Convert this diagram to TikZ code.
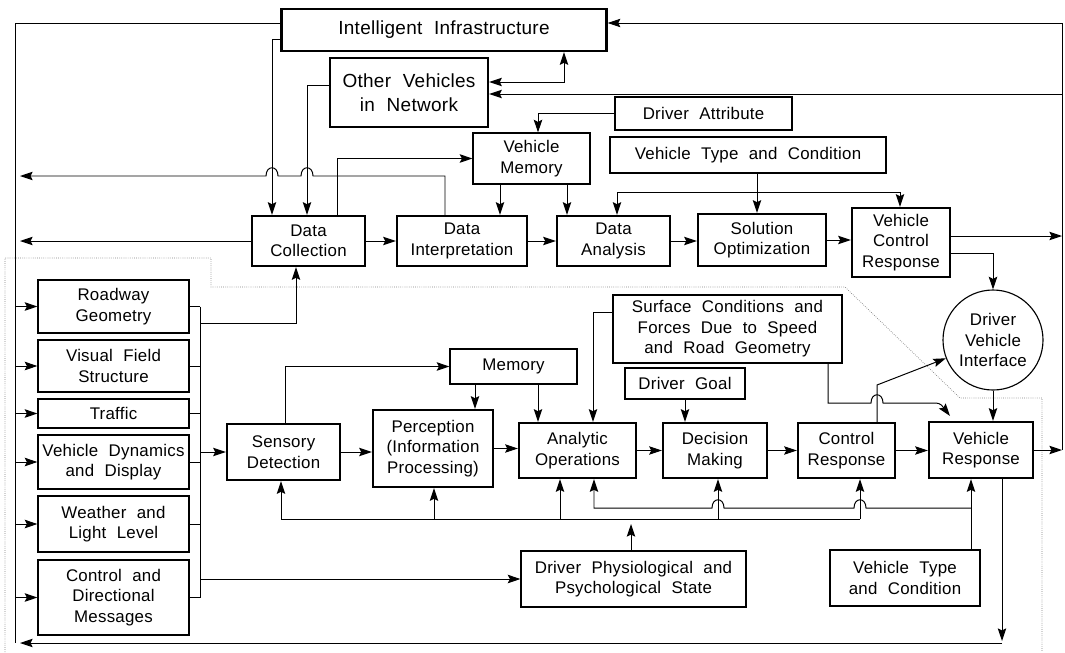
\documentclass[tikz,border=0pt]{standalone}
\usepackage{fontspec}
\setmainfont{Liberation Sans}[WordSpace=2.1, LetterSpace=1.5]
\usetikzlibrary{arrows.meta}
\begin{document}
\begin{tikzpicture}[x=0.025cm,y=-0.025cm,line width=0.7pt,
    >={Stealth[length=9pt,width=6pt,inset=1.5pt]},
    every node/.style={font=\fontsize{12}{14.5}\selectfont},
    box/.style 2 args={draw,align=center,inner sep=0pt,line width=0.8pt,
      minimum width=#1*0.025cm,minimum height=#2*0.025cm},
    pbox/.style 2 args={box={#1}{#2},line width=1.7pt},
    big/.style={font=\fontsize{13.5}{17}\selectfont}]
  \useasboundingbox (0,0) rectangle (1065,652);
  \node[pbox={325}{42},big] (infra) at (444,30) {Intelligent Infrastructure};
  \node[pbox={158}{69},big] (others) at (409,92.5) {Other Vehicles\\in Network};
  \node[box={177}{33}] (drvattr) at (703.5,113.5) {Driver Attribute};
  \node[box={117}{51}] (vmem) at (531.5,158.5) {Vehicle\\Memory};
  \node[box={276}{36}] (vtype) at (748,155) {Vehicle Type and Condition};
  \node[pbox={113}{50}] (collect) at (308.5,241) {Data\\Collection};
  \node[pbox={130}{50}] (interp) at (462,241) {Data\\Interpretation};
  \node[pbox={113}{50}] (analysis) at (613.5,241) {Data\\Analysis};
  \node[pbox={128}{52}] (optim) at (762,240) {Solution\\Optimization};
  \node[pbox={98}{69}] (vctrl) at (901,242.5) {Vehicle\\Control\\Response};
  \node[circle,draw,align=center,inner sep=0pt,line width=0.8pt,
    minimum size=100*0.025cm] (dvi) at (993,340) {Driver\\Vehicle\\Interface};
  \node[box={151}{53}] (road) at (113.5,306.5) {Roadway\\Geometry};
  \node[box={151}{52}] (visual) at (113.5,366) {Visual Field\\Structure};
  \node[box={151}{29}] (traffic) at (113.5,413.5) {Traffic};
  \node[box={151}{54}] (vdyn) at (113.5,462) {Vehicle Dynamics\\and Display};
  \node[box={151}{56}] (weather) at (113.5,524) {Weather and\\Light Level};
  \node[box={151}{75}] (cmsg) at (113.5,597.5) {Control and\\Directional\\Messages};
  \node[pbox={113}{56}] (sensory) at (283.5,452) {Sensory\\Detection};
  \node[box={127}{35}] (memory) at (513.5,366.5) {Memory};
  \node[pbox={120}{77}] (percept) at (433,448.5) {Perception\\(Information\\Processing)};
  \node[box={229}{68}] (surface) at (727.5,329) {Surface Conditions and\\Forces Due to Speed\\and Road Geometry};
  \node[box={120}{31}] (goal) at (685,383.5) {Driver Goal};
  \node[pbox={117}{55}] (analytic) at (577.5,450.5) {Analytic\\Operations};
  \node[pbox={104}{55}] (decision) at (715,450.5) {Decision\\Making};
  \node[pbox={97}{55}] (control) at (846.5,450.5) {Control\\Response};
  \node[pbox={104}{56}] (vresp) at (981,450) {Vehicle\\Response};
  \node[box={225}{56}] (physio) at (633.5,579) {Driver Physiological and\\Psychological State};
  \node[box={150}{56}] (vtype2) at (905,578) {Vehicle Type\\and Condition};
  \draw[gray,densely dotted,line width=0.5pt] (5,652) -- (5,258) -- (211,258) -- (211,287)
    -- (845,287) -- (960,398) -- (1042,398) -- (1042,652);
  \draw (infra.west |- 0,23) -- (15,23) -- (15,643);
  \foreach \n in {road,visual,traffic,vdyn,weather,cmsg}
    \draw[->] (15,0 |- \n.west) -- (\n.west);
  \foreach \n in {road,visual,traffic,vdyn,weather,cmsg}
    \draw (\n.east) -- (200,0 |- \n.east);
  \draw (200,0 |- road.east) -- (200,0 |- cmsg.east);
  \draw[->] (200,323) -| (collect.south -| 296,0);
  \draw[->] (200,0 |- sensory.west) -- (sensory.west);
  \draw[->] (200,0 |- physio.west) -- (physio.west);
  \draw[->] (infra.west |- 0,39) -- (272,39) -- (collect.north -| 272,0);
  \draw[->] (others.west |- 0,85) -- (307,85) -- (collect.north -| 307,0);
  \draw[->] (collect.north -| 337,0) -- (337,158.5) -- (vmem.west);
  \draw[->] (interp.north -| 445,0) -- (445,176) -- (313,176)
    .. controls (313,165) and (301,165) .. (301,176) -- (278,176)
    .. controls (278,165) and (266,165) .. (266,176) -- (20,176);
  \draw[->] (collect.west) -- (20,241);
  \draw[->] (drvattr.west) -- (538,113.5) -- (vmem.north -| 538,0);
  \draw[->] (vmem.south -| 500,0) -- (interp.north -| 500,0);
  \draw[->] (vmem.south -| 567,0) -- (analysis.north -| 567,0);
  \draw[->] (vtype.south -| 757,0) -- (optim.north -| 757,0);
  \draw[->] (757,192) -- (617,192) -- (analysis.north -| 617,0);
  \draw[->] (757,192) -- (900,192) -- (vctrl.north -| 900,0);
  \draw[->] (collect.east) -- (interp.west);
  \draw[->] (interp.east) -- (analysis.west);
  \draw[->] (analysis.east) -- (analysis.east -| optim.west);
  \draw[->] (optim.east) -- (optim.east -| vctrl.west);
  \draw[->] (vctrl.east |- 0,236) -- (1062,236);
  \draw[->] (vctrl.east |- 0,253) -- (993,253) -- (dvi.north);
  \draw[->] (vresp.east) -- (1062,0 |- vresp.east);
  \draw[->] (1062,450) -- (1062,23) -- (infra.east |- 0,23);
  \draw[->] (1062,94) -- (others.east |- 0,94);
  \draw[<->] (others.east |- 0,82) -- (564,82) -- (infra.south -| 564,0);
  \draw[->] (sensory.north -| 285,0) -- (285,366.5) -- (memory.west);
  \draw[->] (memory.south -| 475,0) -- (percept.north -| 475,0);
  \draw[->] (memory.south -| 538,0) -- (analytic.north -| 538,0);
  \draw[->] (surface.west |- 0,312) -- (593,312) -- (analytic.north -| 593,0);
  \draw[->] (goal.south) -- (decision.north -| goal.south);
  \draw[->] (sensory.east) -- (sensory.east -| percept.west);
  \draw[->] (percept.east) -- (percept.east -| analytic.west);
  \draw[->] (analytic.east) -- (decision.west);
  \draw[->] (decision.east) -- (control.west);
  \draw[->] (control.east) -- (control.east -| vresp.west);
  \draw[->] (control.north -| 877,0) -- (877,385) -- (dvi);
  \draw[->] (surface.south -| 828,0) -- (828,403) -- (871,403)
    .. controls (871,392) and (883,392) .. (883,403) -- (928,403)
    .. controls (940,403) .. (950,416);
  \draw[->] (dvi.south) -- (vresp.north -| dvi.south);
  \draw (281,519) -- (860,519);
  \foreach \n/\x in {sensory/281,percept/434,analytic/560,decision/718,control/860}
    \draw[->] (\x,519) -- (\n.south -| \x,0);
  \draw[->] (physio.north -| 631,0) -- (631,524);
  \draw[->] (vtype2.north -| 971,0) -- (vresp.south -| 971,0);
  \draw[->] (971,508) -- (866,508) .. controls (866,497) and (854,497) .. (854,508)
    -- (724,508) .. controls (724,497) and (712,497) .. (712,508)
    -- (594,508) -- (analytic.south -| 594,0);
  \draw[->] (vresp.south -| 1002,0) -- (1002,641);
  \draw[->] (1002,643) -- (20,643);
\end{tikzpicture}
\end{document}
